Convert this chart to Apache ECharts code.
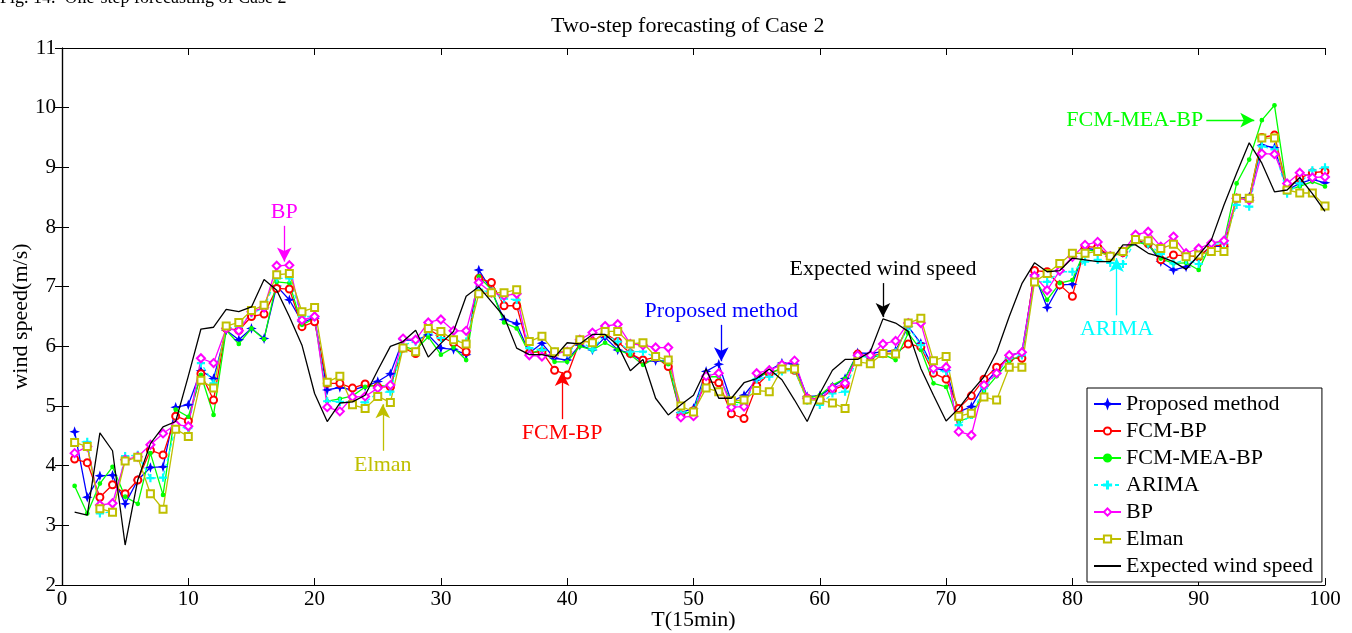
<!DOCTYPE html>
<html>
<head>
<meta charset="utf-8">
<script src="https://cdn.jsdelivr.net/npm/echarts@6/dist/echarts.min.js"></script>
<style>
html,body{margin:0;padding:0;background:#fff;}
#chart{width:1352px;height:633px;}
</style>
</head>
<body>
<div id="chart"></div>
<script>
// ---------- data (T = 1..100) ----------
const steps = Array.from({length: 100}, (_, i) => i + 1);
const xTicks = [0, 10, 20, 30, 40, 50, 60, 70, 80, 90, 100];
const yTicks = [2, 3, 4, 5, 6, 7, 8, 9, 10, 11];

const proposed = [4.57,3.47,3.83,3.84,3.36,3.76,3.97,3.98,4.98,5.02,
5.59,5.46,6.27,6.11,6.30,6.13,7.01,6.78,6.41,6.47,
5.27,5.31,5.27,5.33,5.41,5.54,6.11,6.10,6.19,5.97,
5.95,5.86,7.28,6.94,6.45,6.38,5.89,6.05,5.80,5.77,
6.02,5.94,6.15,5.94,5.88,5.74,5.76,5.75,4.89,4.96,
5.58,5.70,5.07,5.18,5.44,5.60,5.72,5.70,5.16,5.17,
5.32,5.46,5.89,5.88,5.91,5.93,6.33,6.05,5.63,5.60,
4.90,4.99,5.35,5.60,5.85,5.90,7.20,6.65,7.03,7.04,
7.64,7.62,7.51,7.57,7.78,7.71,7.42,7.28,7.33,7.50,
7.68,7.67,8.48,8.50,9.37,9.33,8.62,8.73,8.80,8.74];

const fcmBP = [4.11,4.05,3.47,3.68,3.53,3.76,4.26,4.18,4.83,4.75,
5.54,5.10,6.30,6.27,6.50,6.54,6.97,6.96,6.33,6.41,
5.38,5.38,5.30,5.37,5.32,5.32,5.97,5.88,6.29,6.16,
6.06,5.91,7.14,7.07,6.68,6.68,5.89,5.91,5.60,5.52,
6.08,6.08,6.22,6.08,5.88,5.77,5.82,5.66,4.85,4.92,
5.41,5.39,4.87,4.79,5.34,5.55,5.62,5.60,5.13,5.12,
5.27,5.35,5.87,5.83,5.88,5.88,6.04,5.99,5.55,5.45,
4.96,5.17,5.45,5.65,5.80,5.80,7.27,7.25,7.03,6.84,
7.67,7.66,7.51,7.57,7.78,7.72,7.45,7.53,7.52,7.50,
7.68,7.70,8.48,8.48,9.50,9.54,8.65,8.82,8.91,8.93];

const fcmMeaBP = [3.66,3.20,3.70,3.98,3.48,3.36,4.21,3.51,4.94,4.82,
5.52,4.85,6.27,6.04,6.30,6.12,7.08,7.06,6.36,6.47,
5.08,5.12,5.17,5.32,5.35,5.32,6.00,5.94,6.16,5.86,
5.98,5.77,7.17,6.95,6.40,6.30,5.88,5.94,5.74,5.74,
6.00,5.94,6.06,5.94,5.86,5.69,5.80,5.70,4.85,4.92,
5.49,5.49,5.07,5.05,5.50,5.55,5.63,5.62,5.13,5.18,
5.35,5.46,5.87,5.80,5.87,5.77,6.22,5.94,5.38,5.32,
4.74,4.82,5.25,5.50,5.75,5.85,7.15,6.78,7.06,7.11,
7.62,7.59,7.51,7.56,7.75,7.70,7.47,7.39,7.40,7.28,
7.73,7.76,8.73,9.13,9.79,10.04,8.62,8.68,8.76,8.68];

const arima = [4.40,4.40,3.20,3.23,4.16,4.18,3.79,3.80,4.65,4.63,
5.72,5.38,6.30,6.33,6.55,6.65,7.14,7.14,6.50,6.50,
5.08,5.07,5.07,5.06,5.22,5.24,6.02,6.08,6.25,6.14,
6.11,6.08,6.95,6.90,6.80,6.78,5.97,5.94,5.91,5.88,
6.09,5.95,6.20,6.08,5.91,5.91,5.82,5.77,4.89,4.92,
5.52,5.55,5.02,5.02,5.45,5.49,5.58,5.60,5.09,5.02,
5.21,5.24,5.83,5.82,5.87,5.90,6.33,6.02,5.60,5.58,
4.68,4.85,5.30,5.55,5.80,5.85,7.08,7.08,7.25,7.25,
7.42,7.45,7.40,7.38,7.78,7.72,7.55,7.39,7.45,7.38,
7.70,7.73,8.37,8.34,9.35,9.30,8.56,8.73,8.95,9.00];

const bp = [4.21,4.32,3.34,3.37,4.10,4.15,4.35,4.54,4.69,4.66,
5.80,5.72,6.30,6.26,6.58,6.65,7.35,7.36,6.44,6.50,
4.98,4.91,5.15,5.16,5.30,5.35,6.13,6.11,6.40,6.45,
6.26,6.26,7.07,6.90,6.85,6.88,5.85,5.83,5.88,5.91,
6.11,6.23,6.34,6.37,6.04,6.02,5.98,5.98,4.81,4.83,
5.50,5.55,4.98,4.99,5.55,5.60,5.69,5.76,5.13,5.11,
5.30,5.38,5.85,5.85,6.04,6.09,6.39,6.39,5.63,5.65,
4.57,4.51,5.35,5.55,5.85,5.90,7.18,6.94,7.27,7.50,
7.70,7.75,7.51,7.59,7.87,7.92,7.67,7.84,7.56,7.64,
7.73,7.77,8.48,8.45,9.23,9.22,8.73,8.91,8.83,8.84];

const elman = [4.39,4.32,3.28,3.22,4.08,4.14,3.53,3.27,4.61,4.49,
5.43,5.30,6.34,6.40,6.60,6.69,7.20,7.22,6.58,6.65,
5.40,5.50,5.02,4.96,5.16,5.06,5.97,5.91,6.30,6.25,
6.11,6.04,6.88,6.90,6.90,6.95,6.08,6.17,5.91,5.91,
6.11,6.06,6.25,6.25,6.04,6.06,5.83,5.77,5.00,4.90,
5.30,5.24,5.09,5.10,5.26,5.24,5.62,5.62,5.10,5.10,
5.05,4.96,5.74,5.71,5.88,5.87,6.39,6.47,5.76,5.83,
4.83,4.88,5.15,5.10,5.65,5.65,7.08,7.22,7.39,7.56,
7.56,7.59,7.51,7.59,7.79,7.77,7.64,7.71,7.50,7.53,
7.59,7.59,8.48,8.48,9.49,9.49,8.62,8.57,8.57,8.35];

const expected = [3.22,3.17,4.55,4.25,2.67,3.76,4.37,4.65,4.74,5.50,
6.29,6.32,6.62,6.58,6.66,7.12,6.94,6.50,6.02,5.21,
4.74,5.05,5.07,5.18,5.60,6.00,6.08,6.27,5.82,6.05,
6.25,6.84,7.00,6.75,6.50,5.97,5.86,5.86,5.82,6.06,
6.04,6.20,6.20,6.02,5.59,5.78,5.13,4.85,5.02,5.18,
5.62,5.13,5.13,5.39,5.46,5.62,5.44,5.10,4.74,5.21,
5.60,5.78,5.78,5.91,6.46,6.39,6.25,5.63,5.18,4.75,
4.96,5.24,5.49,5.90,6.50,7.05,7.40,7.25,7.27,7.48,
7.45,7.42,7.42,7.70,7.70,7.56,7.50,7.42,7.29,7.53,
7.78,8.37,8.90,9.41,9.07,8.59,8.62,8.83,8.56,8.26];

// annotation arrows: label, from [T, value] -> to [T, value]
const annotations = [
  {name: 'BP',                   color: '#ff00ff', from: [17.6, 8.02], to: [17.6, 7.42]},
  {name: 'Elman',                color: '#bfbf00', from: [25.4, 4.25], to: [25.4, 5.03]},
  {name: 'FCM-BP',               color: '#ff0000', from: [39.6, 4.78], to: [39.6, 5.57]},
  {name: 'Proposed method',      color: '#0000ff', from: [52.2, 6.36], to: [52.2, 5.75]},
  {name: 'Expected wind speed',  color: '#000000', from: [65.0, 7.06], to: [65.0, 6.49]},
  {name: 'ARIMA',                color: '#00ffff', from: [83.5, 6.52], to: [83.5, 7.48]},
  {name: 'FCM-MEA-BP',           color: '#00ff00', from: [90.6, 9.79], to: [94.4, 9.79]}
];

// ---------- chart ----------
const FONT = 'Liberation Serif, Times New Roman, serif';
const pair = arr => steps.map((t, i) => [t, arr[i]]);

const starPath = 'path://M5,0L6.3,3.7L10,5L6.3,6.3L5,10L3.7,6.3L0,5L3.7,3.7Z';
const plusPath = 'path://M4.3,0H5.7V4.3H10V5.7H5.7V10H4.3V5.7H0V4.3H4.3Z';

function lineSeries(name, arr, color, symbol, size, extra) {
  return Object.assign({
    name: name, type: 'line', data: pair(arr),
    symbol: symbol, symbolSize: size, showSymbol: symbol !== 'none',
    lineStyle: {color: color, width: 1.3},
    itemStyle: {color: color, borderColor: color, borderWidth: 1.2},
    emphasis: {disabled: true}, animation: false, z: 2
  }, extra || {});
}

const markLineData = annotations.map(a => [
  {coord: a.from, lineStyle: {color: a.color, width: 1.3, type: 'solid'},
   label: {show: true, position: 'start', formatter: a.name, color: a.color,
           fontFamily: FONT, fontSize: 22, distance: 3}},
  {coord: a.to}
]);

const chart = echarts.init(document.getElementById('chart'), null, {renderer: 'canvas'});
chart.setOption({
  animation: false,
  backgroundColor: '#ffffff',
  grid: {left: 62, right: 27, top: 48, bottom: 48, containLabel: false, outerBoundsMode: 'none'},
  graphic: [
    {type: 'text', left: 0, top: -11, style: {text: 'Fig. 14.  One-step forecasting of Case 2', fontFamily: FONT, fontSize: 18, fill: '#000'}},
    {type: 'text', left: 551, top: 15, style: {text: 'Two-step forecasting of Case 2', fontFamily: FONT, fontSize: 22, fill: '#000'}}
  ],
  xAxis: [
    {type: 'value', min: xTicks[0], max: xTicks[xTicks.length - 1], interval: 10, position: 'bottom',
     name: 'T(15min)', nameLocation: 'middle', nameGap: 24, nameMoveOverlap: false,
     nameTextStyle: {fontFamily: FONT, fontSize: 22, color: '#000'},
     axisLine: {lineStyle: {color: '#000', width: 1.2}},
     axisTick: {inside: true, length: 7, lineStyle: {color: '#000'}},
     axisLabel: {fontFamily: FONT, fontSize: 21, color: '#000', margin: 4},
     splitLine: {show: false}},
    {type: 'value', min: xTicks[0], max: xTicks[xTicks.length - 1], interval: 10, position: 'top',
     axisLine: {lineStyle: {color: '#000', width: 1.2}},
     axisTick: {inside: true, length: 7, lineStyle: {color: '#000'}},
     axisLabel: {show: false}, splitLine: {show: false}}
  ],
  yAxis: [
    {type: 'value', min: yTicks[0], max: yTicks[yTicks.length - 1], interval: 1, position: 'left',
     name: 'wind speed(m/s)', nameLocation: 'middle', nameGap: 30, nameMoveOverlap: false,
     nameTextStyle: {fontFamily: FONT, fontSize: 22, color: '#000'},
     axisLine: {show: true, lineStyle: {color: '#000', width: 1.2}},
     axisTick: {show: true, inside: true, length: 7, lineStyle: {color: '#000'}},
     axisLabel: {fontFamily: FONT, fontSize: 21, color: '#000', margin: 6},
     splitLine: {show: false}},
    {type: 'value', min: yTicks[0], max: yTicks[yTicks.length - 1], interval: 1, position: 'right',
     axisLine: {show: true, lineStyle: {color: '#000', width: 1.2}},
     axisTick: {show: true, inside: true, length: 7, lineStyle: {color: '#000'}},
     axisLabel: {show: false}, splitLine: {show: false}}
  ],
  legend: {
    orient: 'vertical', left: 1087, top: 388,
    padding: [5, 9, 5, 6], itemGap: 5, itemWidth: 27, itemHeight: 9,
    backgroundColor: '#fff', borderColor: '#000', borderWidth: 1,
    textStyle: {fontFamily: FONT, fontSize: 22, color: '#000', lineHeight: 22},
    data: ['Proposed method', 'FCM-BP', 'FCM-MEA-BP', 'ARIMA', 'BP', 'Elman',
           {name: 'Expected wind speed', itemStyle: {color: 'rgba(0,0,0,0)', borderColor: 'rgba(0,0,0,0)', opacity: 0}}]
  },
  series: [
    lineSeries('Proposed method', proposed, '#0000ff', starPath, 7),
    lineSeries('FCM-BP', fcmBP, '#ff0000', 'emptyCircle', 7),
    lineSeries('FCM-MEA-BP', fcmMeaBP, '#00ff00', 'circle', 3.5),
    lineSeries('ARIMA', arima, '#00ffff', plusPath, 7, {lineStyle: {color: '#00ffff', width: 1.3, type: [4, 3]}}),
    lineSeries('BP', bp, '#ff00ff', 'emptyDiamond', 8),
    lineSeries('Elman', elman, '#bfbf00', 'emptyRect', 7),
    lineSeries('Expected wind speed', expected, '#000000', 'none', 0, {
      z: 3,
      markLine: {silent: true, animation: false, symbol: ['none', 'arrow'], symbolSize: [11, 14],
                 precision: 3, emphasis: {disabled: true}, data: markLineData}
    })
  ]
});
</script>
</body>
</html>
